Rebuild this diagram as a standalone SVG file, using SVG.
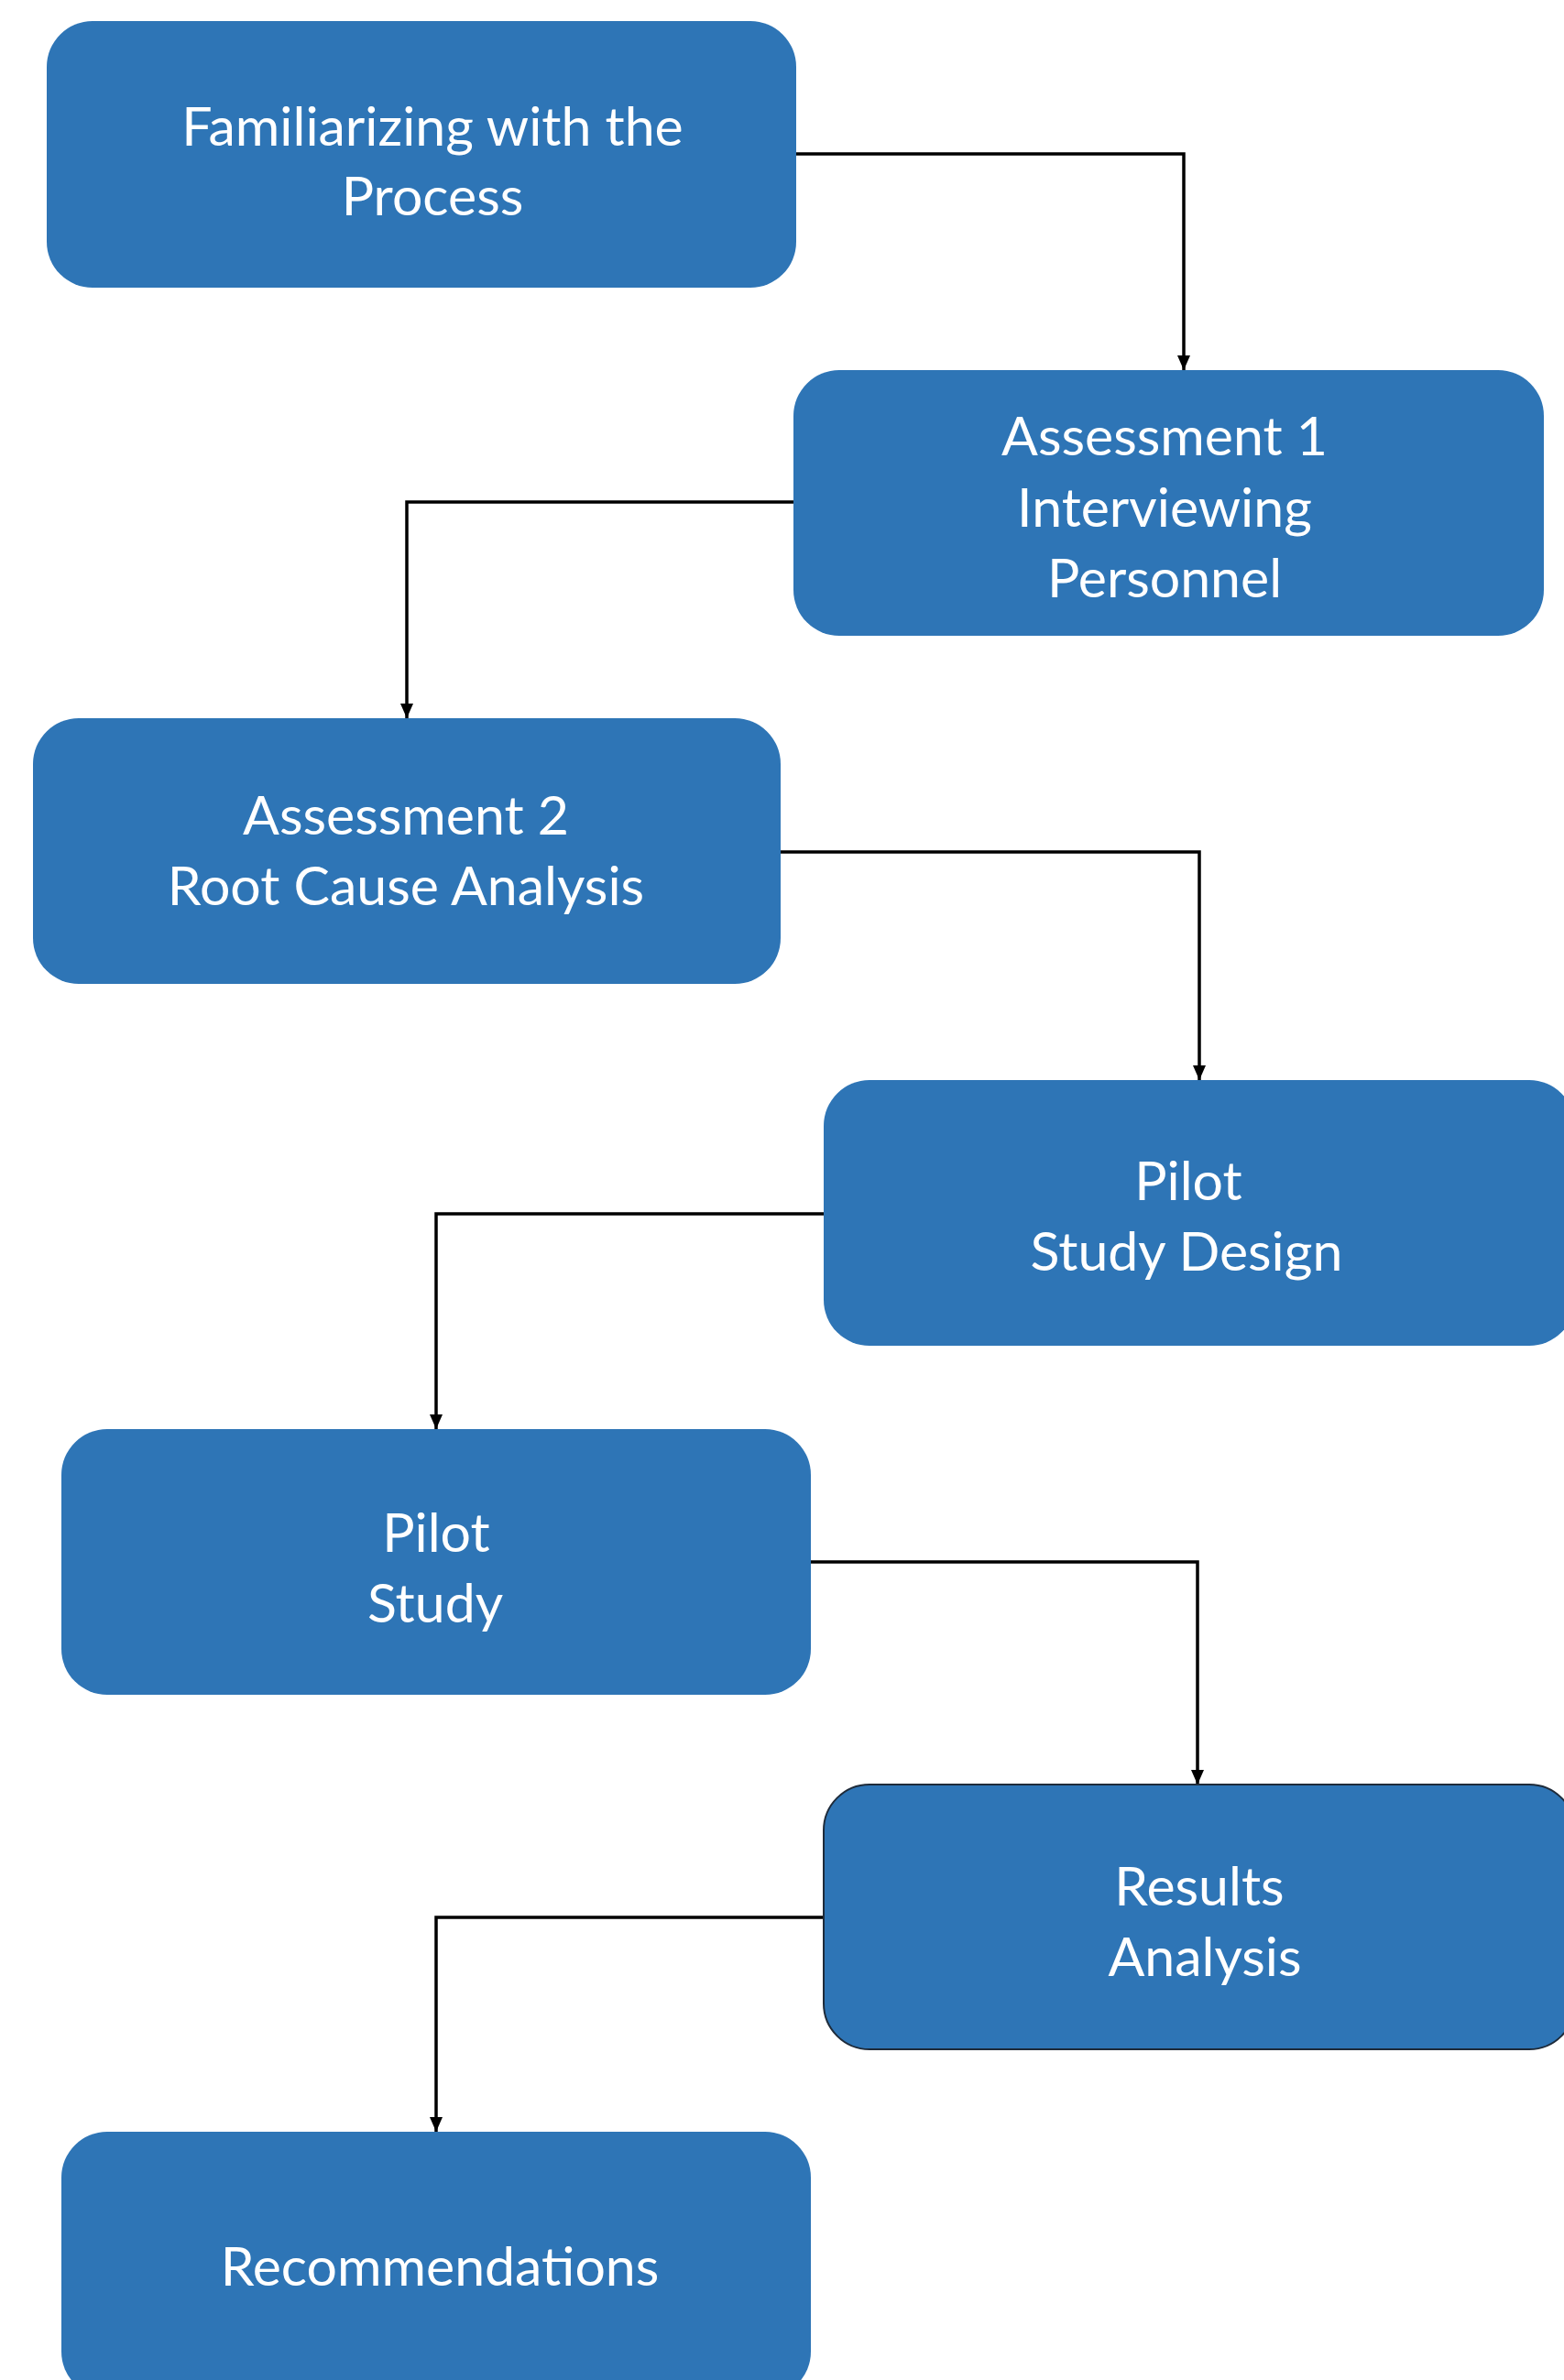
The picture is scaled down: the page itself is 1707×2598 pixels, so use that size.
<svg xmlns="http://www.w3.org/2000/svg" width="1707" height="2598" viewBox="0 0 1707 2598">
<style>
.node{fill:#2E75B6;}
.outlined{stroke:#1E2B3A;stroke-width:2;}
.label{fill:#FFFFFF;font-family:Lato,"Open Sans","Liberation Sans",sans-serif;font-size:59px;text-anchor:middle;}
.edge{fill:none;stroke:#000000;stroke-width:3.5;}
</style>
<defs>
<marker id="arrow" markerUnits="userSpaceOnUse" markerWidth="16" markerHeight="14" refX="16" refY="7" orient="auto">
<path d="M0,0 L16,7 L0,14 Z" fill="#000000"/>
</marker>
</defs>
<rect width="1707" height="2598" fill="#FFFFFF"/>
<g id="connectors">
<path class="edge" d="M869,168 H1292 V404" marker-end="url(#arrow)"/>
<path class="edge" d="M866,548 H444 V784" marker-end="url(#arrow)"/>
<path class="edge" d="M852,930 H1309 V1179" marker-end="url(#arrow)"/>
<path class="edge" d="M899,1325 H476 V1560" marker-end="url(#arrow)"/>
<path class="edge" d="M885,1705 H1307 V1948" marker-end="url(#arrow)"/>
<path class="edge" d="M899,2093 H476 V2327" marker-end="url(#arrow)"/>
</g>
<g id="node-familiarizing">
<rect class="node" x="51" y="23" width="818" height="291" rx="50" ry="50"/>
<text class="label" x="472" y="159">Familiarizing with the</text>
<text class="label" x="472" y="235">Process</text>
</g>
<g id="node-assessment1">
<rect class="node" x="866" y="404" width="819" height="290" rx="50" ry="50"/>
<text class="label" x="1271" y="497">Assessment 1</text>
<text class="label" x="1271" y="575">Interviewing</text>
<text class="label" x="1271" y="652">Personnel</text>
</g>
<g id="node-assessment2">
<rect class="node" x="36" y="784" width="816" height="290" rx="50" ry="50"/>
<text class="label" x="443" y="911">Assessment 2</text>
<text class="label" x="443" y="988">Root Cause Analysis</text>
</g>
<g id="node-pilot-design">
<rect class="node" x="899" y="1179" width="820" height="290" rx="50" ry="50"/>
<text class="label" x="1297" y="1310">Pilot</text>
<text class="label" x="1295" y="1387">Study Design</text>
</g>
<g id="node-pilot-study">
<rect class="node" x="67" y="1560" width="818" height="290" rx="50" ry="50"/>
<text class="label" x="476" y="1694">Pilot</text>
<text class="label" x="475" y="1771">Study</text>
</g>
<g id="node-results">
<rect class="node outlined" x="899" y="1948" width="820" height="289" rx="50" ry="50"/>
<text class="label" x="1309" y="2080">Results</text>
<text class="label" x="1315" y="2157">Analysis</text>
</g>
<g id="node-recommendations">
<rect class="node" x="67" y="2327" width="818" height="290" rx="50" ry="50"/>
<text class="label" x="480" y="2495">Recommendations</text>
</g>
</svg>
